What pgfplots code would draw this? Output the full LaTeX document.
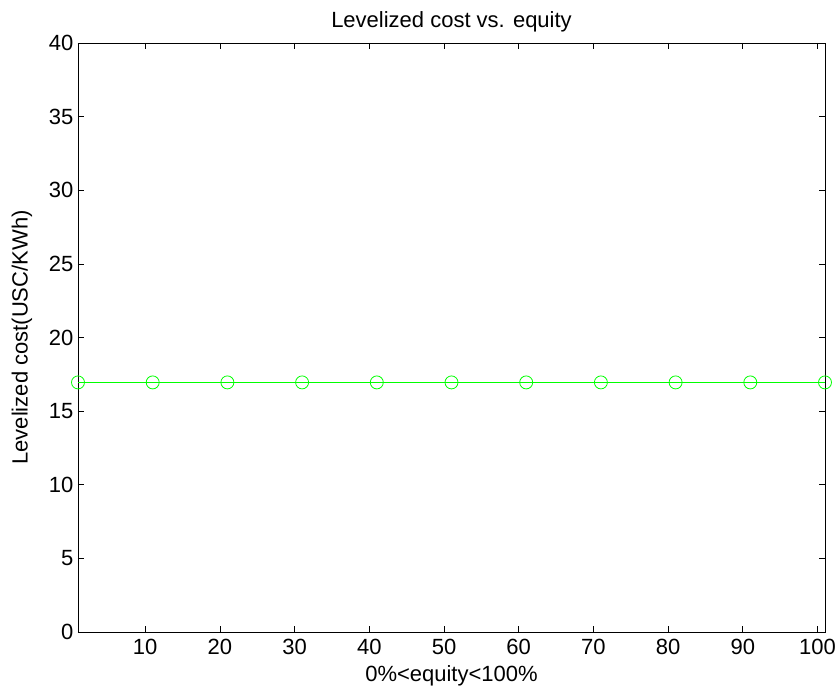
\documentclass[border=0pt]{standalone}
\usepackage{pgfplots}
\pgfplotsset{compat=1.18}
\usepackage{fontspec}
\setmainfont{Liberation Sans}
\begin{document}
\begin{tikzpicture}[x=1pt,y=1pt]
\path[use as bounding box] (-78,-68) rectangle (762,632);
\begin{axis}[
  at={(0,0)}, anchor=south west,
  width=747pt, height=589pt, scale only axis,
  xmin=1, xmax=101, ymin=0, ymax=40,
  xtick={10,20,...,100}, ytick={0,5,...,40},
  tick align=inside, major tick length=6pt,
  tick style={black, line width=0.7pt},
  axis line style={line width=0.8pt},
  /pgf/number format/assume math mode=true,
  tick label style={font=\fontsize{22}{25}\selectfont},
  xticklabel style={yshift=-4pt},
  yticklabel style={xshift=-1pt},
  label style={font=\fontsize{22}{25}\selectfont},
  title style={font=\fontsize{22}{25}\selectfont, yshift=1pt},
  title={Levelized cost vs. equity},
  xlabel={0\%<equity<100\%},
  ylabel={Levelized cost(USC/KWh)},
  xlabel style={yshift=-4pt},
  ylabel style={yshift=10pt},
  clip=false,
]
\addplot[color={rgb,1:red,0;green,1;blue,0}, line width=0.7pt, mark=o, mark size=6.5pt, mark options={line width=0.8pt}]
coordinates {(1,16.95) (11,16.95) (21,16.95) (31,16.95) (41,16.95) (51,16.95) (61,16.95) (71,16.95) (81,16.95) (91,16.95) (101,16.95)};
\end{axis}
\end{tikzpicture}
\end{document}
